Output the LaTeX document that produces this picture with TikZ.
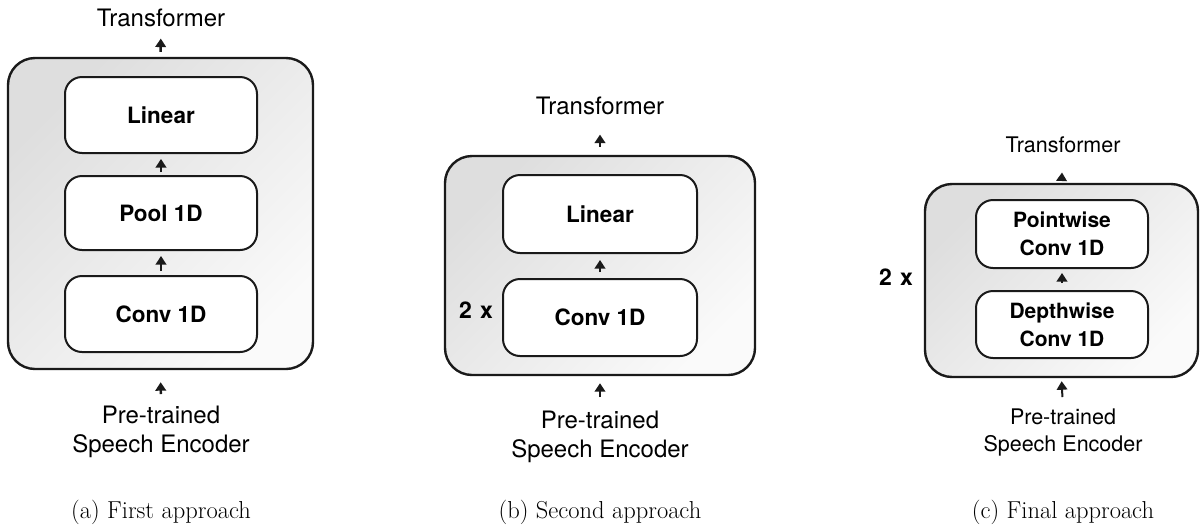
\documentclass[tikz,border=0pt]{standalone}
\usepackage{fontspec}
\newfontfamily\hv{TeX Gyre Heros}
\usetikzlibrary{arrows.meta}
\definecolor{ink}{HTML}{1A1A1A}
\begin{document}
\begin{tikzpicture}[x=1pt,y=-1pt,
  outerbox/.style={draw=ink, line width=2.4pt, rounded corners=27pt,
    top color=black!13, bottom color=black!2, shading angle=45, inner sep=0pt},
  layerbox/.style={draw=ink, line width=2pt, rounded corners=17pt, fill=white,
    inner sep=0pt, align=center, font=\hv\bfseries\fontsize{22.5}{28}\selectfont},
  smallbox/.style={layerbox, font=\hv\bfseries\fontsize{21}{28}\selectfont},
  bigtxt/.style={inner sep=0pt, align=center, font=\hv\fontsize{24}{29}\selectfont},
  smalltxt/.style={inner sep=0pt, align=center, font=\hv\fontsize{21.5}{27}\selectfont},
  times/.style={inner sep=0pt, font=\hv\bfseries\fontsize{23}{28}\selectfont},
  caption/.style={inner sep=0pt, font=\fontsize{24.5}{28}\selectfont},
  arr/.style={draw=ink, line width=2.4pt, -{Triangle[width=10.5pt,length=8.5pt]}},
]
\useasboundingbox (0,0) rectangle (1202,528);

% ---------- (a) First approach ----------
\node[outerbox, minimum width=305pt, minimum height=311pt] (outerA) at (160.5,213.5) {};
\node[layerbox, minimum width=192pt, minimum height=76pt] (linA) at (161,115) {Linear};
\node[layerbox, minimum width=192pt, minimum height=74pt] (poolA) at (161,213) {Pool 1D};
\node[layerbox, minimum width=192pt, minimum height=76pt] (convA) at (161,314) {Conv 1D};
\node[bigtxt, anchor=base] (transA) at (161,26) {Transformer};
\node[bigtxt, anchor=north] (srcA) at (161,406) {Pre-trained\\Speech Encoder};
\node[caption] (capA) at (161,512) {(a) First approach};

\draw[arr, shorten <=5pt, shorten >=12pt] (outerA.north) -- (transA.south);
\draw[arr, shorten <=4pt, shorten >=5pt] (convA.north) -- (poolA.south);
\draw[arr, shorten <=3pt, shorten >=5pt] (poolA.north) -- (linA.south);
\draw[arr, shorten <=12pt, shorten >=12pt] (srcA.north) -- (outerA.south);

% ---------- (b) Second approach ----------
\node[outerbox, minimum width=310pt, minimum height=219pt] (outerB) at (600,265.5) {};
\node[layerbox, minimum width=194pt, minimum height=78pt] (linB) at (600,214) {Linear};
\node[layerbox, minimum width=194pt, minimum height=77pt] (convB) at (600,317.5) {Conv 1D};
\node[times] (twoB) at (476,310) {2\hspace{0.35em}x};
\node[bigtxt, anchor=base] (transB) at (600,114) {Transformer};
\node[bigtxt, anchor=north] (srcB) at (600,411) {Pre-trained\\Speech Encoder};
\node[caption] (capB) at (600,512) {(b) Second approach};

\draw[arr, shorten <=8pt, shorten >=20pt] (outerB.north) -- (transB.south);
\draw[arr, shorten <=6pt, shorten >=6pt] (convB.north) -- (linB.south);
\draw[arr, shorten <=14pt, shorten >=7pt] (srcB.north) -- (outerB.south);

% ---------- (c) Final approach ----------
\node[outerbox, minimum width=273pt, minimum height=193pt] (outerC) at (1061.5,280.5) {};
\node[smallbox, minimum width=172pt, minimum height=68pt] (pwC) at (1062,234) {Pointwise\\Conv 1D};
\node[smallbox, minimum width=172pt, minimum height=67pt] (dwC) at (1062,324.5) {Depthwise\\Conv 1D};
\node[times] (twoC) at (896,277) {2\hspace{0.35em}x};
\node[smalltxt, anchor=base] (transC) at (1063,152) {Transformer};
\node[smalltxt, anchor=north] (srcC) at (1063,409) {Pre-trained\\Speech Encoder};
\node[caption] (capC) at (1063,512) {(c) Final approach};

\draw[arr, line width=2pt, shorten <=2pt, shorten >=20pt] (outerC.north) -- (transC.south);
\draw[arr, line width=2pt, shorten <=7pt, shorten >=4pt] (dwC.north) -- (pwC.south);
\draw[arr, line width=2pt, shorten <=12pt, shorten >=3pt] (srcC.north) -- (outerC.south);
\end{tikzpicture}
\end{document}
